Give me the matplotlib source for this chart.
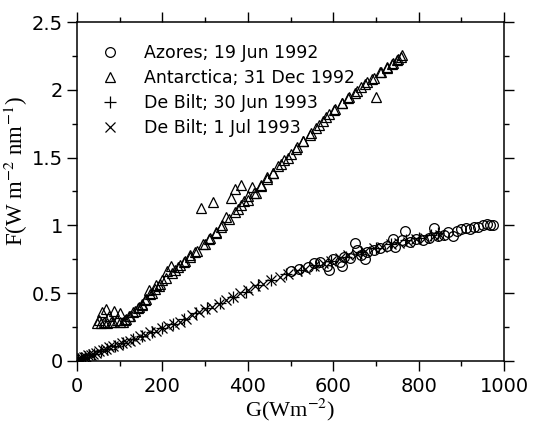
import numpy as np
import matplotlib
matplotlib.use("Agg")
import matplotlib.pyplot as plt
from matplotlib.ticker import MultipleLocator, FormatStrFormatter

plt.rcParams["font.family"] = "DejaVu Sans"
plt.rcParams["mathtext.fontset"] = "stix"

# -----------------------------
# Data
# -----------------------------
# Azores, 19 Jun 1992 (open circles)
g_azores = [500, 520, 540, 555, 570, 585, 591, 600, 615, 620, 625, 640, 650, 655, 665,
            675, 680, 695, 710, 725, 741, 745, 760, 768, 780, 795, 810, 825, 835, 845,
            860, 870, 880, 890, 900, 910, 920, 930, 940, 950, 960, 968, 975]
f_azores = [0.66, 0.68, 0.69, 0.72, 0.73, 0.70, 0.67, 0.75, 0.73, 0.70, 0.77, 0.76, 0.87, 0.82, 0.78,
            0.75, 0.80, 0.82, 0.83, 0.85, 0.90, 0.84, 0.89, 0.96, 0.88, 0.90, 0.89, 0.91, 0.98, 0.92,
            0.93, 0.95, 0.92, 0.96, 0.97, 0.98, 0.97, 0.99, 0.99, 1.00, 1.01, 1.00, 1.00]

# Antarctica, 31 Dec 1992 (open triangles)
g_antarctica = [47, 52, 58, 63, 68, 74, 80, 86, 93, 100, 107, 115, 125, 135, 145, 152, 160, 168,
                176, 184, 192, 200, 210, 220, 230, 240, 252, 264, 276, 290, 300, 318, 312, 325,
                338, 350, 360, 370, 378, 385, 392, 400, 410, 420, 432, 445, 458, 470, 485, 500,
                515, 530, 545, 560, 575, 590, 605, 620, 635, 650, 665, 680, 695, 700, 712, 725,
                738, 750, 758,
                55, 70, 85, 100, 112, 122, 132, 142, 152, 162, 172, 182, 195, 208, 222, 236,
                250, 265, 280, 295, 310, 325, 340, 355, 370, 385, 400, 415, 430, 445, 460, 478,
                495, 512, 530, 548, 566, 584, 602, 620, 638, 656, 674, 692, 710, 725, 740, 752, 762]
f_antarctica = [0.28, 0.30, 0.36, 0.29, 0.38, 0.33, 0.29, 0.37, 0.30, 0.35, 0.29, 0.31, 0.33, 0.37,
                0.40, 0.41, 0.45, 0.52, 0.50, 0.56, 0.55, 0.60, 0.66, 0.70, 0.67, 0.71, 0.74, 0.78,
                0.80, 1.13, 0.86, 1.17, 0.91, 0.94, 0.99, 1.06, 1.20, 1.27, 1.12, 1.30, 1.18, 1.22,
                1.28, 1.24, 1.30, 1.36, 1.39, 1.44, 1.48, 1.53, 1.58, 1.62, 1.67, 1.72, 1.77, 1.82,
                1.86, 1.90, 1.94, 1.98, 2.02, 2.06, 2.09, 1.95, 2.13, 2.17, 2.19, 2.22, 2.24,
                0.28, 0.28, 0.29, 0.29, 0.30, 0.33, 0.36, 0.39, 0.42, 0.46, 0.49, 0.53, 0.57,
                0.61, 0.65, 0.69, 0.73, 0.77, 0.81, 0.86, 0.90, 0.95, 1.00, 1.05, 1.10, 1.15,
                1.19, 1.24, 1.29, 1.34, 1.39, 1.45, 1.50, 1.56, 1.62, 1.68, 1.74, 1.80, 1.85,
                1.90, 1.95, 1.99, 2.04, 2.08, 2.13, 2.16, 2.20, 2.23, 2.26]

# De Bilt, 30 Jun 1993 (plus)
g_bilt30 = [3, 10, 18, 28, 40, 55, 70, 88, 108, 130, 152, 175, 200, 225, 250, 278, 305, 335,
            365, 395, 425, 455, 490, 525, 560, 595, 630, 665, 700, 735, 770, 800, 830, 845]
f_bilt30 = [0.01, 0.02, 0.03, 0.04, 0.05, 0.07, 0.09, 0.11, 0.13, 0.16, 0.18, 0.21, 0.24, 0.27,
            0.31, 0.35, 0.39, 0.43, 0.47, 0.51, 0.56, 0.60, 0.64, 0.67, 0.71, 0.74, 0.77, 0.80,
            0.83, 0.86, 0.89, 0.91, 0.93, 0.94]

# De Bilt, 1 Jul 1993 (cross)
g_bilt01 = [2, 5, 8, 12, 16, 20, 26, 32, 38, 45, 52, 60, 68, 76, 85, 95, 105, 115, 125, 136,
            148, 160, 172, 185, 198, 212, 226, 240, 255, 270, 285, 300, 316, 332, 348, 365, 382,
            400, 418, 436, 455, 475, 495, 515, 535, 555, 575, 595, 615, 635, 655, 675, 695, 715,
            735, 755, 775, 795, 815, 835, 850]
f_bilt01 = [0.01, 0.01, 0.02, 0.02, 0.03, 0.03, 0.04, 0.04, 0.05, 0.06, 0.07, 0.08, 0.09, 0.10,
            0.11, 0.12, 0.13, 0.14, 0.15, 0.16, 0.18, 0.19, 0.21, 0.22, 0.24, 0.26, 0.27, 0.29,
            0.31, 0.34, 0.36, 0.38, 0.40, 0.42, 0.45, 0.47, 0.50, 0.52, 0.55, 0.57, 0.60, 0.62,
            0.64, 0.66, 0.68, 0.70, 0.72, 0.74, 0.76, 0.78, 0.79, 0.81, 0.83, 0.84, 0.86, 0.87,
            0.88, 0.90, 0.91, 0.92, 0.93]

labels = ["Azores; 19 Jun 1992", "Antarctica; 31 Dec 1992",
          "De Bilt; 30 Jun 1993", "De Bilt; 1 Jul 1993"]

# -----------------------------
# Figure
# -----------------------------
fig = plt.figure(figsize=(5.35, 4.26), dpi=100)
ax = fig.add_axes([0.144, 0.153, 0.798, 0.795])

ms = 7
ax.plot(g_azores, f_azores, "o", mfc="none", mec="black", mew=0.9, ms=ms, label=labels[0])
ax.plot(g_antarctica, f_antarctica, "^", mfc="none", mec="black", mew=0.9, ms=ms, label=labels[1])
ax.plot(g_bilt30, f_bilt30, "+", color="black", mew=0.9, ms=ms + 1, label=labels[2])
ax.plot(g_bilt01, f_bilt01, "x", color="black", mew=0.9, ms=ms, label=labels[3])

ax.set_xlim(0, 1000)
ax.set_ylim(0, 2.5)

ax.xaxis.set_major_locator(MultipleLocator(200))
ax.xaxis.set_minor_locator(MultipleLocator(100))
ax.yaxis.set_major_locator(MultipleLocator(0.5))
ax.yaxis.set_minor_locator(MultipleLocator(0.25))
ax.yaxis.set_major_formatter(FormatStrFormatter("%g"))

ax.tick_params(which="both", direction="out", top=True, right=True, width=1.0)
ax.tick_params(which="major", length=7, labelsize=14, pad=3)
ax.tick_params(which="minor", length=3.5)
ax.tick_params(axis="x", which="major", pad=5)
for s in ax.spines.values():
    s.set_linewidth(1.1)

ax.set_xlabel(r"G(Wm$^{-2}$)", family="Liberation Serif", fontsize=16, labelpad=0)
ax.set_ylabel(r"F(W m$^{-2}$ nm$^{-1}$)", family="Liberation Serif", fontsize=16.5)
ax.yaxis.set_label_coords(-0.11, 0.56)

leg = ax.legend(loc="upper left", bbox_to_anchor=(0.04, 0.956), frameon=False,
                fontsize=12.5, handlelength=1.0, handletextpad=1.47,
                labelspacing=0.4, borderaxespad=0)

fig.savefig("out.png", dpi=100, facecolor="white")
